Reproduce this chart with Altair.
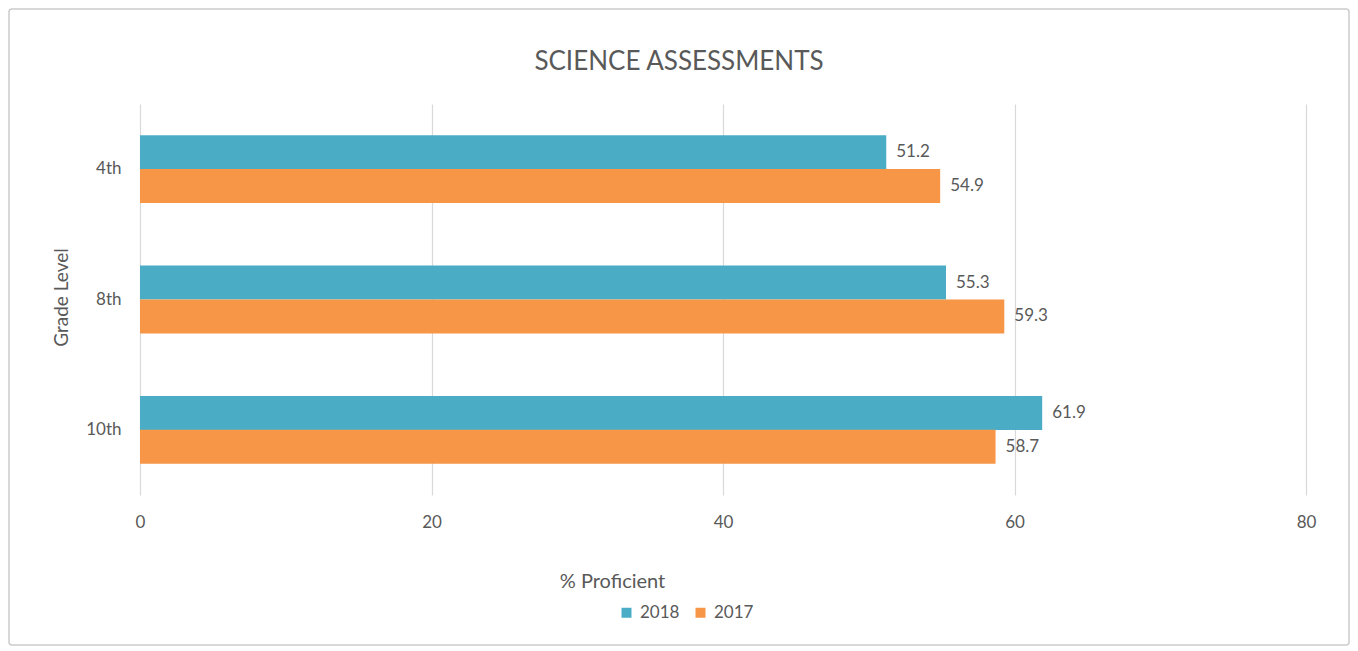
import altair as alt
import pandas as pd

grades = ["4th", "8th", "10th"]
years = ["2018", "2017"]
values_2018 = [51.2, 55.3, 61.9]
values_2017 = [54.9, 59.3, 58.7]
colors = ["#4BACC6", "#F79646"]
x_ticks = [0, 20, 40, 60, 80]

rows = []
for g, v18, v17 in zip(grades, values_2018, values_2017):
    rows.append({"grade": g, "year": "2018", "value": v18})
    rows.append({"grade": g, "year": "2017", "value": v17})
df = pd.DataFrame(rows)

FONT = "Lato"
GRAY = "#595959"

base = alt.Chart(df).encode(
    y=alt.Y("grade:N", sort=grades,
            scale=alt.Scale(paddingInner=0.48, paddingOuter=0.24),
            axis=alt.Axis(title="Grade Level", labelFontSize=17, labelColor=GRAY,
                          labelPadding=19, ticks=False, domain=False,
                          titleFontSize=19, titleColor=GRAY, titleFontWeight="normal",
                          titleX=-69, titleY=193, titleAngle=270, titleAlign="center",
                          titleBaseline="bottom")),
    yOffset=alt.YOffset("year:N", sort=years),
)

bars = base.mark_bar(size=34).encode(
    x=alt.X("value:Q", scale=alt.Scale(domain=[0, 80]),
            axis=alt.Axis(values=x_ticks, title="% Proficient", labelFontSize=17,
                          labelColor=GRAY, labelPadding=19, ticks=False, domain=False,
                          labelFlush=False,
                          gridColor="#D9D9D9", gridWidth=1.2,
                          titleFontSize=20, titleColor=GRAY, titleFontWeight="normal",
                          titleX=472, titleY=76, titleAlign="center")),
    color=alt.Color("year:N", scale=alt.Scale(domain=years, range=colors),
                    legend=alt.Legend(title=None, orient="none", direction="horizontal",
                                      legendX=478, legendY=500, symbolType="square",
                                      symbolSize=100, symbolStrokeWidth=0,
                                      labelFontSize=17, labelColor=GRAY,
                                      columnPadding=12, labelOffset=5)),
)

labels = base.mark_text(align="left", baseline="middle", dx=10, fontSize=17,
                        color=GRAY, font=FONT).encode(
    x=alt.X("value:Q"),
    text=alt.Text("value:Q", format=".1f"),
)

frame = alt.Chart(pd.DataFrame({"f": [0]})).mark_rect(
    filled=False, stroke="#CCCCCC", strokeWidth=1.5, cornerRadius=3
).encode(
    x=alt.value(-131), x2=alt.value(1209), y=alt.value(-95), y2=alt.value(541)
)

chart = alt.layer(frame, bars, labels).properties(
    width=1166, height=391,
    title=alt.TitleParams("SCIENCE ASSESSMENTS", fontSize=26, color=GRAY,
                          fontWeight="normal", anchor="middle", frame="bounds",
                          offset=-67, font=FONT),
    autosize=alt.AutoSizeParams(type="none"),
    padding={"left": 132, "top": 96, "right": 44, "bottom": 152},
).configure(font=FONT).configure_view(stroke=None)

chart.save("out.html", embed_options={"renderer": "svg", "actions": False})
